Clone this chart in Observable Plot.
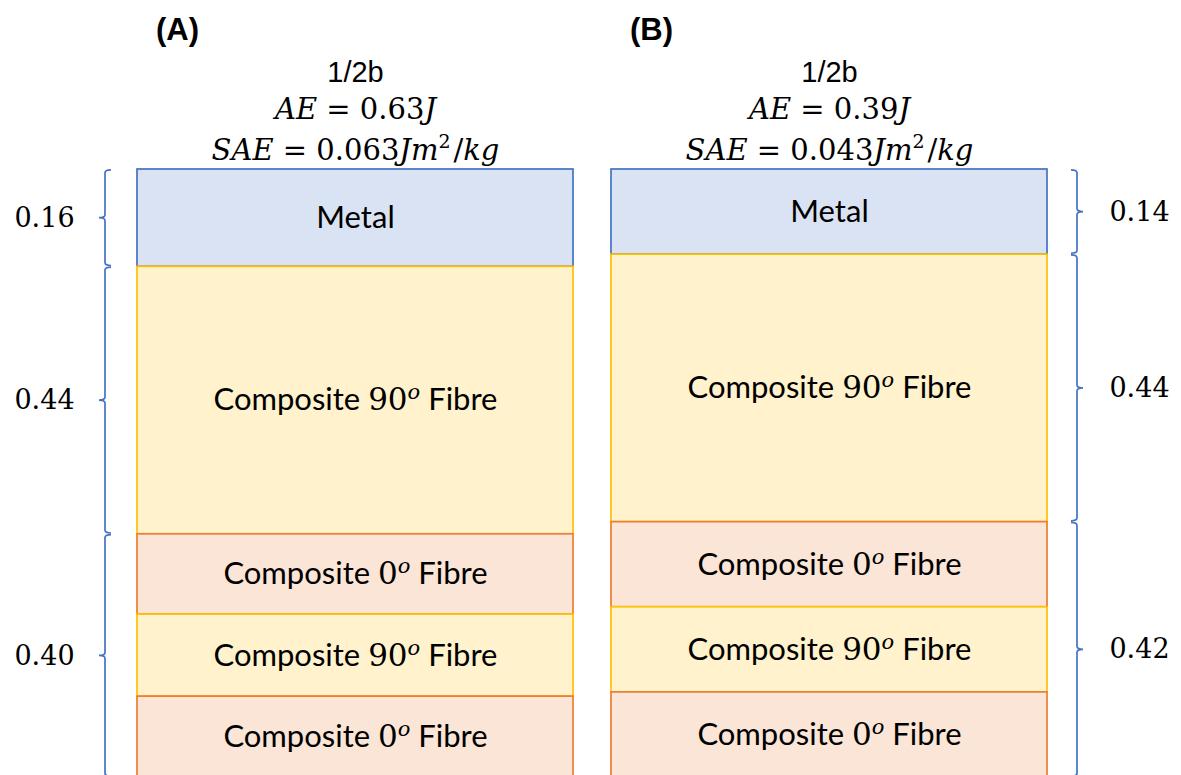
<!DOCTYPE html>
<html>
<head>
<meta charset="utf-8">
<script src="https://cdn.jsdelivr.net/npm/d3@7"></script>
<script src="https://cdn.jsdelivr.net/npm/@observablehq/plot@0.6"></script>
<style>
  body { margin: 0; background: #fff; overflow: hidden; }
  #chart svg { display: block; }
</style>
</head>
<body>
<div id="chart"></div>
<script>
const panels = ["A", "B"];
const panelTags = ["(A)", "(B)"];
const panelNames = ["1/2b", "1/2b"];
const aeValues = [0.63, 0.39];
const saeValues = [0.063, 0.043];

// layers from top to bottom, thickness in mm
const layerNames = ["Metal", "Composite 90^o Fibre", "Composite 0^o Fibre", "Composite 90^o Fibre", "Composite 0^o Fibre"];
const layerKinds = ["metal", "c90", "c0", "c90", "c0"];
const thicknessA = [0.16, 0.44, 0.132, 0.135, 0.133];
const thicknessB = [0.14, 0.44, 0.14, 0.14, 0.14];

// values written beside the braces
const groupA = [0.16, 0.44, 0.40];
const groupB = [0.14, 0.44, 0.42];

const fills = {metal: "#dae3f3", c90: "#fff2cc", c0: "#fbe5d6"};
const strokes = {metal: "#4472c4", c90: "#ffc000", c0: "#ed7d31"};
const braceColor = "#4472c4";

const sans = "Lato, 'Open Sans', sans-serif";
const serif = "'DejaVu Serif', serif";
const helv = "'Liberation Sans', Arial, sans-serif";

function stack(panel, values, extra) {
  let y = 0;
  return values.map((v, i) => {
    const row = {panel, y1: y, y2: y + v, value: v, ...extra(i)};
    y += v;
    return row;
  });
}

const layers = [
  ...stack("A", thicknessA, i => ({name: layerNames[i], kind: layerKinds[i]})),
  ...stack("B", thicknessB, i => ({name: layerNames[i], kind: layerKinds[i]}))
];
const groups = [...stack("A", groupA, () => ({})), ...stack("B", groupB, () => ({}))];
const heads = panels.map((p, i) => ({panel: p, tag: panelTags[i], name: panelNames[i], ae: aeValues[i], sae: saeValues[i]}));

// curly braces beside the panels (A on the left, B on the right)
function braces(index, {x, y}) {
  const g = d3.create("svg:g").attr("fill", "none").attr("stroke", braceColor).attr("stroke-width", 1.7);
  for (const d of groups) {
    const left = d.panel === "A";
    const x0 = left ? x(d.panel) - 32 : x(d.panel) + x.bandwidth() + 30;
    const h = left ? 6 : -6;
    const ya = y(d.y1) + 0.8, yb = y(d.y2) - 0.8, ym = y((d.y1 + d.y2) / 2);
    const r = 3;
    g.append("path").attr("d",
      `M${x0 + h},${ya}Q${x0},${ya} ${x0},${ya + r}L${x0},${ym - r}Q${x0},${ym} ${x0 - h},${ym}` +
      `Q${x0},${ym} ${x0},${ym + r}L${x0},${yb - r}Q${x0},${yb} ${x0 + h},${yb}`);
  }
  return g.node();
}

const mid = d => (d.y1 + d.y2) / 2;

const chart = Plot.plot({
  width: 1181,
  height: 775,
  marginTop: 169,
  marginBottom: 0,
  marginLeft: 137,
  marginRight: 133,
  x: {domain: panels, range: [137, 1048], paddingInner: 0.08, paddingOuter: 0, axis: null},
  y: {domain: [0, 1], range: [169, 777], axis: null},
  color: {type: "identity"},
  marks: [
    Plot.barY(layers, {x: "panel", y1: "y1", y2: "y2", fill: d => fills[d.kind], stroke: d => strokes[d.kind], strokeWidth: 1.7, inset: 0}),
    Plot.text(layers, {x: "panel", y: mid, text: "name", fontFamily: sans, fontSize: 31, fill: "#000"}),
    braces,
    Plot.text(groups.filter(d => d.panel === "A"), {x: "panel", y: mid, text: d => d.value.toFixed(2), dx: -311, fontFamily: serif, fontSize: 27, fill: "#000"}),
    Plot.text(groups.filter(d => d.panel === "B"), {x: "panel", y: mid, text: d => d.value.toFixed(2), dx: 310, fontFamily: serif, fontSize: 27, fill: "#000"}),
    Plot.text(heads, {x: "panel", frameAnchor: "top", text: "tag", dx: -178, dy: -152, fontFamily: helv, fontWeight: "bold", fontSize: 31, fill: "#000"}),
    Plot.text(heads, {x: "panel", frameAnchor: "top", text: "name", dy: -108, fontFamily: helv, fontSize: 29, fill: "#000"}),
    Plot.text(heads, {x: "panel", frameAnchor: "top", text: d => `AE = ${d.ae}J`, dy: -71, fontFamily: serif, fontSize: 29, fill: "#000"}),
    Plot.text(heads, {x: "panel", frameAnchor: "top", text: d => `SAE = ${d.sae}Jm²/kg`, dy: -30, fontFamily: serif, fontSize: 29, fill: "#000"})
  ]
});

// math-style text: italic letters, upright numbers, raised exponents
d3.select(chart).selectAll("text").each(function() {
  const s = this.textContent;
  const t = d3.select(this);
  if (s.includes("^")) {
    const [, pre, num, sup, post] = s.match(/^(.*?)(\d+)\^(\w)(.*)$/);
    t.text(null);
    t.append("tspan").text(pre);
    t.append("tspan").attr("font-family", serif).text(num);
    t.append("tspan").attr("font-family", serif).attr("font-style", "italic").attr("font-size", 21).attr("dy", -11).text(sup);
    t.append("tspan").attr("dy", 11).text(post);
  } else if (s.includes("=")) {
    t.text(null);
    for (const part of s.match(/[A-Za-z]+|²|[^A-Za-z²]+/g)) {
      if (part === "²") {
        t.append("tspan").attr("font-size", 19).attr("dy", -12).text("2");
        t.append("tspan").attr("dy", 12).text("\u200a");
      } else {
        t.append("tspan").attr("font-style", /[A-Za-z]/.test(part) ? "italic" : null).text(part);
      }
    }
  }
});

d3.select("#chart").append(() => chart);
</script>
</body>
</html>
